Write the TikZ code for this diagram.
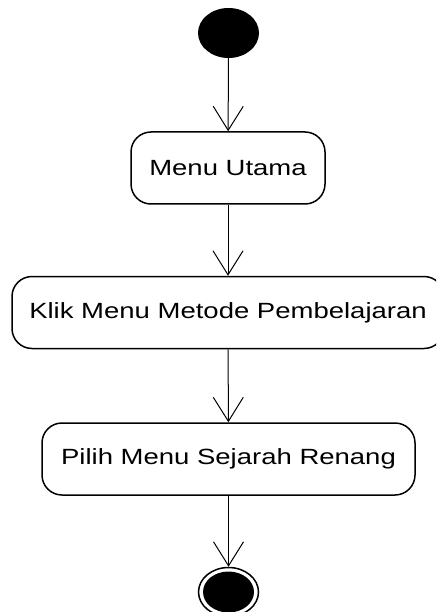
\documentclass[tikz,border=0pt]{standalone}
\usepackage{fontspec}
\setmainfont[FakeStretch=1.25]{Liberation Sans}
\usetikzlibrary{arrows.meta, shapes.geometric}
\tikzset{
    actbox/.style={draw, line width=1.5pt, rounded corners=20pt, minimum height=72pt, inner sep=0pt, font=\fontsize{22}{26}\selectfont},
    initnode/.style={ellipse, fill, inner sep=0pt, minimum width=61pt, minimum height=50pt},
    finnode/.style={ellipse, draw, line width=1.5pt, inner sep=0pt, minimum width=60pt, minimum height=49pt},
    finfill/.style={ellipse, fill, inner sep=0pt, minimum width=51pt, minimum height=41pt},
    flow/.style={-{Straight Barb[length=24pt, width=30pt]}, line width=1pt}
}

\begin{document}
\begin{tikzpicture}[x=1pt, y=-1pt]
        \useasboundingbox (0,0) rectangle (436,612);
        \clip (0,0) rectangle (436,612);
        \node[initnode] (mulai) at (228.5,33) {};
        \node[actbox, minimum width=194pt] (menu) at (228,168) {Menu Utama};
        \node[actbox, minimum width=432pt] (metode) at (228,312.5) {Klik Menu Metode Pembelajaran};
        \node[actbox, minimum width=373pt] (sejarah) at (228.5,459) {Pilih Menu Sejarah Renang};
        \node[finnode] (selesai) at (228.5,592) {};
        \node[finfill] (selesaiin) at (selesai) {};

        \draw[flow] (mulai) -- (menu);
        \draw[flow] (menu) -- (metode);
        \draw[flow] (metode) -- (sejarah);
        \draw[flow] (sejarah) -- (selesai);
    \end{tikzpicture}
\end{document}
